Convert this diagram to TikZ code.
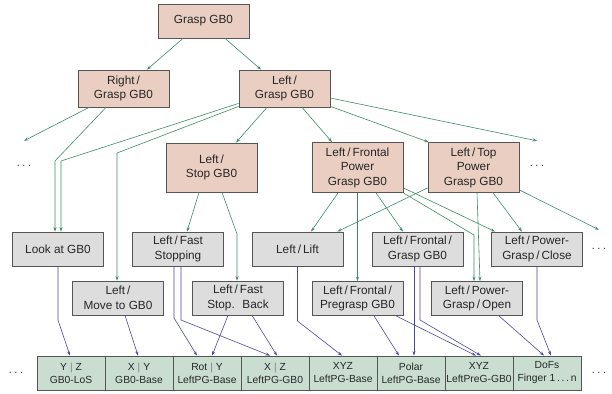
\documentclass[tikz,border=0pt]{standalone}
\usepackage{fontspec}
\setmainfont{Liberation Sans}
\usepackage{xcolor}
\definecolor{taskred}{RGB}{233,206,193}
\definecolor{primgray}{RGB}{221,221,221}
\definecolor{ctrlgreen}{RGB}{201,222,208}
\definecolor{edgegreen}{RGB}{60,140,100}
\definecolor{edgeblue}{RGB}{75,70,160}
\definecolor{framegray}{RGB}{85,85,85}
\usetikzlibrary{
  arrows.meta,
  positioning
}

\begin{document}
\begin{tikzpicture}[
  x=1pt, y=-1pt,
  task/.style={
    draw=framegray, fill=taskred, line width=0.8pt, minimum width=91pt,
    text=black!85, align=center, inner sep=1pt,
    font=\fontsize{11.8}{14.5}\selectfont
  },
  prim/.style={task, fill=primgray, minimum height=34pt},
  ctrl/.style={
    draw=framegray, fill=ctrlgreen, line width=0.8pt, minimum width=68pt,
    minimum height=34pt, text=black!85, align=center, inner sep=0pt,
    font=\fontsize{10.3}{13}\selectfont
  },
  etc/.style={minimum height=#1, inner sep=0pt, text=black!80, font=\fontsize{11}{13}\selectfont},
  tarr/.style={-{Stealth[length=4.5pt,width=3pt]}, edgegreen, line width=0.6pt},
  carr/.style={-{Stealth[length=4.5pt,width=3pt]}, edgeblue, line width=0.6pt},
]
\useasboundingbox (0,0) rectangle (612,393);
\def\etcdots{.\kern2.5pt.\kern2.5pt.}

% Task tree
\node[task, minimum height=34pt] (grasp) at (203.5,21) {Grasp GB0};
\node[task, minimum height=37pt] (right) at (123.5,88.5) {Right\,/\\Grasp GB0};
\node[task, minimum height=37pt] (left)  at (284.5,88.5) {Left\,/\\Grasp GB0};
\node[task, minimum height=49pt] (stop)   at (211.5,167.5) {Left\,/\\Stop GB0};
\node[task, minimum height=50pt] (fpower) at (357.5,167.5) {Left\,/\,Frontal\\Power\\Grasp GB0};
\node[task, minimum height=50pt] (tpower) at (473.5,167.5) {Left\,/\,Top\\Power\\Grasp GB0};
\node[etc=50pt] (dotsl) at (24,166) {\etcdots};
\node[etc=50pt] (dotsr) at (537,166) {\etcdots};

% Primitives
\node[prim] (look)   at (58,249)    {Look at GB0};
\node[prim] (fstop)  at (178,249)   {Left\,/\,Fast\\Stopping};
\node[prim] (lift)   at (297.5,249) {Left\,/\,Lift};
\node[prim] (fgrasp) at (417.5,249) {Left\,/\,Frontal\,/\\Grasp GB0};
\node[prim] (close)  at (537,249)   {Left\,/\,Power-\\Grasp\,/\,Close};
\node[etc=38pt] (dotsp) at (599,249) {\etcdots};
\node[prim] (move)     at (118,298)     {Left\,/\\Move to GB0};
\node[prim] (fback)    at (238,298)     {Left\,/\,Fast\\Stop.~ Back};
\node[prim] (pregrasp) at (357.5,298.5) {Left\,/\,Frontal\,/\\Pregrasp GB0};
\node[prim] (open)     at (477,298.5)   {Left\,/\,Power-\\Grasp\,/\,Open};

% Controllers
\node[ctrl] (c1) at (71,373)  {Y $|$ Z\\GB0-LoS};
\node[ctrl] (c2) at (139,373) {X $|$ Y\\GB0-Base};
\node[ctrl] (c3) at (207,373) {Rot $|$ Y\\LeftPG-Base};
\node[ctrl] (c4) at (275,373) {X $|$ Z\\LeftPG-GB0};
\node[ctrl] (c5) at (343,373) {XYZ\\LeftPG-Base};
\node[ctrl] (c6) at (411,373) {Polar\\LeftPG-Base};
\node[ctrl] (c7) at (479,373) {XYZ\\LeftPreG-GB0};
\node[ctrl] (c8) at (547,373) {DoFs\\Finger 1\,.\,.\,.\,n};
\node[etc=20pt] (dotsb1) at (16,373)  {\etcdots};
\node[etc=20pt] (dotsb2) at (599,373) {\etcdots};

% Tree edges
\draw[tarr] ([xshift=-20.5pt]grasp.south) -- ([xshift=23.5pt]right.north);
\draw[tarr] ([xshift=21.5pt]grasp.south) -- ([xshift=-23.5pt]left.north);
\draw[tarr] ([xshift=-34.5pt]right.south) -- (dotsl.north);
\draw[tarr] ([xshift=-17.5pt]right.south) -- ([xshift=-3pt]look.north |- 0,161) -- ([xshift=-3pt]look.north);
\draw[tarr] ([yshift=4pt]left.south west) -- ([xshift=3pt]look.north |- 0,161) -- ([xshift=3pt]look.north);
\draw[tarr] ([yshift=1pt]left.south west) -- ([xshift=-1pt]move.north |- 0,153) -- ([xshift=-1pt]move.north);
\draw[tarr] ([xshift=-17.5pt]left.south) -- ([xshift=24.5pt]stop.north);
\draw[tarr] ([xshift=17.5pt]left.south) -- ([xshift=-25.5pt]fpower.north);
\draw[tarr] ([yshift=1pt]left.south east) -- ([xshift=1pt]tpower.north west);
\draw[tarr] ([yshift=-9.5pt]left.east) -- (dotsr.north);
\draw[tarr] ([xshift=-12.5pt]stop.south) -- ([xshift=9pt]fstop.north);
\draw[tarr] ([xshift=10.5pt]stop.south) -- ([xshift=-1pt]fback.north |- 0,234) -- ([xshift=-1pt]fback.north);
\draw[tarr] ([xshift=-19.5pt]fpower.south) -- ([xshift=13.5pt]lift.north);
\draw[tarr] (fpower.south) -- (pregrasp.north);
\draw[tarr] ([xshift=18.5pt]fpower.south) -- ([xshift=-14.5pt]fgrasp.north);
\draw[tarr] ([yshift=5pt]fpower.south east) -- ([xshift=4pt]close.north west);
\draw[tarr] (fpower.south east) -- ([xshift=-3pt]open.north |- 0,235) -- ([xshift=-3pt]open.north);
\draw[tarr] ([yshift=5pt]tpower.south west) -- ([xshift=-6pt]lift.north east);
\draw[tarr] ([xshift=3.5pt]tpower.south) -- ([xshift=3pt]open.north);
\draw[tarr] ([xshift=19.5pt]tpower.south) -- ([xshift=-15pt]close.north);
\draw[tarr] ([yshift=3pt]tpower.south east) -- (dotsp.north);

% Primitive -> controller edges
\draw[carr] (look.south) -- (look.south |- 0,320) -- ([xshift=-1pt]c1.north);
\draw[carr] ([xshift=7pt]move.south) -- ([xshift=-1pt]c2.north);
\draw[carr] ([xshift=-4pt]fstop.south) -- ([xshift=-4pt]fstop.south |- 0,318) -- ([xshift=-10pt]c3.north);
\draw[carr] ([xshift=3pt]fstop.south) -- ([xshift=3pt]fstop.south |- 0,320) -- ([xshift=-5pt]c4.north);
\draw[carr] ([xshift=-10pt]fback.south) -- ([xshift=5pt]c3.north);
\draw[carr] ([xshift=14pt]fback.south) -- ([xshift=2pt]c4.north);
\draw[carr] (lift.south) -- (lift.south |- 0,321) -- ([xshift=-1pt]c5.north);
\draw[carr] ([xshift=16.5pt]pregrasp.south) -- ([xshift=-12pt]c6.north);
\draw[carr] ([xshift=38.5pt]pregrasp.south) -- ([xshift=-3pt]c7.north);
\draw[carr] ([xshift=-3.5pt]fgrasp.south) -- ([xshift=3pt]c6.north);
\draw[carr] ([xshift=2.5pt]fgrasp.south) -- ([xshift=2.5pt]fgrasp.south |- 0,320) -- ([xshift=2pt]c7.north);
\draw[carr] ([xshift=22pt]open.south) -- ([xshift=-3pt]c8.north);
\draw[carr] (close.south) -- (close.south |- 0,320) -- ([xshift=4pt]c8.north);

\end{tikzpicture}
\end{document}
